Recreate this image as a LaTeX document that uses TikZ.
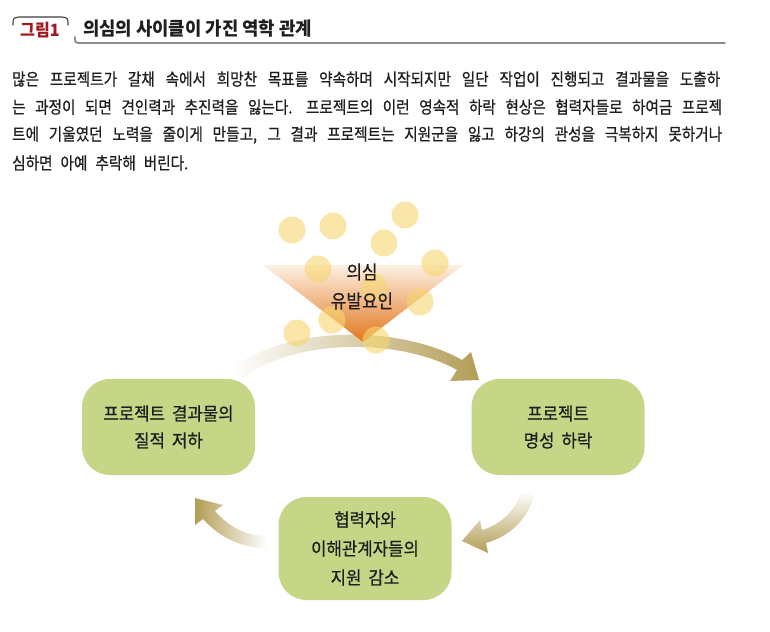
\documentclass[tikz,border=0pt]{standalone}
\usepackage{fontspec}
\setmainfont{Noto Sans CJK KR}
\newfontfamily\krpara{Noto Sans CJK KR}[FakeStretch=0.86, FakeBold=0.6]
\newfontfamily\krbox{Noto Sans CJK KR}[FakeStretch=0.93, FakeBold=0.7]
\newfontfamily\krlbl{Noto Sans CJK KR}[FakeStretch=0.89, FakeBold=0.5]
\newfontfamily\krtitle{Noto Sans CJK KR}[FakeStretch=0.96]
\newfontfamily\krfig{Noto Sans CJK KR}[FakeStretch=0.95]
\newcommand\paraspace{\spaceskip=8pt plus 10pt minus 3pt\relax}
\newcommand\boxspace{\spaceskip=7pt plus 2pt minus 1pt\relax}
\newcommand\paraline[2]{{\paraspace\makebox[#1][s]{#2}}}
\definecolor{boxgreen}{RGB}{197,214,134}
\definecolor{arrowgold}{RGB}{179,157,85}
\definecolor{dotyellow}{RGB}{246,214,110}
\definecolor{triTop}{RGB}{253,240,226}
\definecolor{triMid}{RGB}{243,180,112}
\definecolor{triBot}{RGB}{226,118,28}
\definecolor{figred}{RGB}{160,24,30}
\definecolor{txt}{RGB}{30,30,30}
\begin{document}
\begin{tikzpicture}[x=1pt,y=-1pt,
  box/.style={fill=boxgreen, rounded corners=28pt, minimum width=173pt, minimum height=96pt,
    align=center, font=\krbox\fontsize{18}{27}\selectfont, text=txt, inner sep=0pt},
  para/.style={anchor=west, inner sep=0pt, font=\krpara\fontsize{17}{20}\selectfont, text=txt},
  dot/.style={fill=dotyellow, fill opacity=0.6},
  lbl/.style={inner sep=0pt, font=\krlbl\fontsize{19}{20}\selectfont, text=txt}]
\useasboundingbox (0,0) rectangle (770,631);
\fill[white] (0,0) rectangle (770,631);

% header
\draw[line width=1.1pt, black!75, line cap=round] (13,25) .. controls (13,18) .. (19,17) -- (62,17) .. controls (68,18) .. (68,25);
\node[inner sep=0pt, font=\krfig\fontsize{17}{18}\selectfont\bfseries, text=figred] (fig) at (40,30) {그림1};
\node[inner sep=0pt, anchor=west, font=\krtitle\fontsize{18.5}{20}\selectfont\bfseries, text=txt] (title) at (83,29) {의심의 사이클이 가진 역학 관계};
\draw[line width=1.8pt, black!45, line cap=round] (75,37) .. controls (75,43) .. (82,43) -- (725,43);

% paragraph
\node[para] (p1) at (12,79) {\paraline{708pt}{많은 프로젝트가 갈채 속에서 희망찬 목표를 약속하며 시작되지만 일단 작업이 진행되고 결과물을 도출하}};
\node[para] (p2) at (12,107) {\paraline{710pt}{는 과정이 되면 견인력과 추진력을 잃는다. 프로젝트의 이런 영속적 하락 현상은 협력자들로 하여금 프로젝}};
\node[para] (p3) at (12,135) {\paraline{710pt}{트에 기울였던 노력을 줄이게 만들고, 그 결과 프로젝트는 지원군을 잃고 하강의 관성을 극복하지 못하거나}};
\node[para] (p4) at (12,163) {\paraspace 심하면 아예 추락해 버린다.};

% top arc arrow
\shade[left color=white, right color=arrowgold]
  (232,368) .. controls (290,325) and (400,325) .. (462,360)
  -- (471,352) -- (479,380) -- (450,381) -- (457,370)
  .. controls (400,338) and (295,338) .. (243,378) -- cycle;

% triangle
\shade[top color=triTop, middle color=triMid, bottom color=triBot]
  (263,265) -- (463,265) -- (363,342) -- cycle;

% circles
\foreach \cx/\cy in {292/230, 333/226, 405/215, 384/243, 318/269, 435/263, 374/287, 420/302, 332/320, 297/333, 376/340}
  \fill[dot] (\cx,\cy) circle (13.5);

\node[lbl] (q1) at (362,272) {의심};
\node[lbl] (q2) at (362,301) {유발요인};

% boxes
\node[box] (b1) at (168.5,427) {\boxspace 프로젝트 결과물의\\\boxspace 질적 저하};
\node[box] (b2) at (558,427) {프로젝트\\\boxspace 명성 하락};
\node[box, minimum height=103pt, font=\krbox\fontsize{18}{29}\selectfont] (b3) at (365,548.5) {협력자와\\이해관계자들의\\\boxspace 지원 감소};

% right-lower arrow
\shade[top color=white, bottom color=arrowgold]
  (522,491) -- (534,496) .. controls (527,520) and (510,536) .. (486,543)
  -- (488,553) -- (462,541) -- (480,520) -- (482,530)
  .. controls (502,524) and (515,510) .. (522,491) -- cycle;

% left arrow
\shade[left color=arrowgold, right color=white]
  (267,536) .. controls (245,536) and (228,526) .. (215,511)
  -- (223,505) -- (195,498) -- (195,525) -- (203,519)
  .. controls (220,538) and (242,548) .. (267,548) -- cycle;
\end{tikzpicture}
\end{document}
